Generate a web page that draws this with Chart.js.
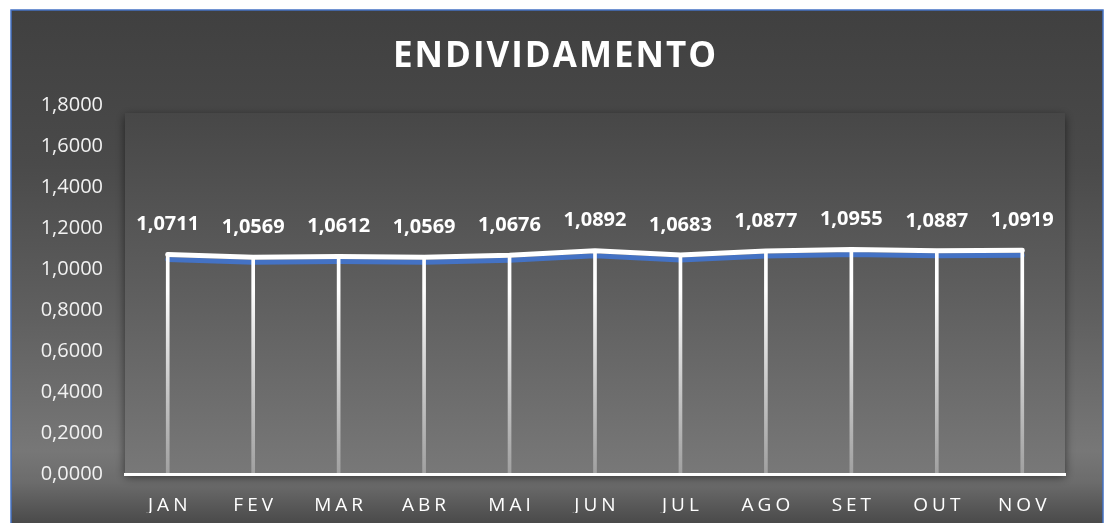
<!DOCTYPE html>
<html>
<head>
<meta charset="utf-8">
<script src="https://cdn.jsdelivr.net/npm/chart.js@4/dist/chart.umd.min.js"></script>
<style>
  html, body { margin: 0; padding: 0; background: #ffffff; overflow: hidden; }
  #wrap { position: absolute; left: 0; top: 0; width: 1106px; height: 523px; }
</style>
</head>
<body>
<div id="wrap"><canvas id="c" width="1106" height="523"></canvas></div>
<script>
const chartTitle = 'ENDIVIDAMENTO';
const months = ['JAN', 'FEV', 'MAR', 'ABR', 'MAI', 'JUN', 'JUL', 'AGO', 'SET', 'OUT', 'NOV'];
const endividamento = [1.0711, 1.0569, 1.0612, 1.0569, 1.0676, 1.0892, 1.0683, 1.0877, 1.0955, 1.0887, 1.0919];
const yMin = 0;
const yMax = 1.8;
const yStep = 0.2;

const fmt = v => Number(v).toFixed(4).replace('.', ',');

function bgGradient(ctx, top, bottom) {
  const g = ctx.createLinearGradient(0, top, 0, bottom);
  g.addColorStop(0.00, '#404040');
  g.addColorStop(0.30, '#4a4a4a');
  g.addColorStop(0.60, '#606060');
  g.addColorStop(0.86, '#777777');
  g.addColorStop(0.92, '#6c6c6c');
  g.addColorStop(1.00, '#4a4a4a');
  return g;
}

const framePlugin = {
  id: 'frame',
  beforeDraw(chart) {
    const ctx = chart.ctx;
    const W = chart.width, H = chart.height;
    ctx.save();
    ctx.fillStyle = '#ffffff';
    ctx.fillRect(0, 0, W, H);
    ctx.fillStyle = bgGradient(ctx, 10, H);
    ctx.fillRect(11, 10, 1092, H - 10);
    const a = chart.chartArea;
    ctx.save();
    ctx.shadowColor = 'rgba(0,0,0,0.55)';
    ctx.shadowBlur = 9;
    ctx.shadowOffsetX = 0;
    ctx.shadowOffsetY = 3;
    const pg = ctx.createLinearGradient(0, a.top, 0, a.bottom);
    pg.addColorStop(0, '#464646');
    pg.addColorStop(0.5, '#5e5e5e');
    pg.addColorStop(1, '#787878');
    ctx.fillStyle = pg;
    ctx.fillRect(a.left, a.top + 8, a.right - a.left, a.bottom - a.top - 8);
    ctx.restore();
    ctx.strokeStyle = '#4472C4';
    ctx.lineWidth = 1.5;
    ctx.beginPath();
    ctx.moveTo(11, H + 2);
    ctx.lineTo(11, 10);
    ctx.lineTo(1103, 10);
    ctx.lineTo(1103, H + 2);
    ctx.stroke();
    ctx.restore();
  }
};

const spacingPlugin = {
  id: 'spacing',
  afterUpdate(chart) {
    const x = chart.scales.x;
    if (x && !x._spWrapped) {
      const orig = x.drawLabels.bind(x);
      x.drawLabels = function (area) {
        const ctx = this.ctx;
        ctx.save();
        ctx.letterSpacing = '4px';
        ctx.translate(2, 0);
        orig(area);
        ctx.restore();
      };
      x._spWrapped = true;
    }
    const t = chart.titleBlock;
    if (t && !t._spWrapped) {
      const origT = t.draw.bind(t);
      t.draw = function () {
        const ctx = this.ctx;
        ctx.save();
        ctx.letterSpacing = '2px';
        ctx.translate(23, 0);
        origT();
        ctx.restore();
      };
      t._spWrapped = true;
    }
  }
};

const shadowLinePlugin = {
  id: 'shadowLine',
  beforeDatasetDraw(chart, args) {
    if (chart.data.datasets[args.index].type === 'line') {
      const ctx = chart.ctx;
      ctx.save();
      ctx.shadowColor = '#4472C4';
      ctx.shadowBlur = 0;
      ctx.shadowOffsetX = 0;
      ctx.shadowOffsetY = 5;
    }
  },
  afterDatasetDraw(chart, args) {
    if (chart.data.datasets[args.index].type === 'line') {
      chart.ctx.restore();
    }
  }
};

const labelPlugin = {
  id: 'valueLabels',
  afterDatasetsDraw(chart) {
    const ctx = chart.ctx;
    const idx = chart.data.datasets.findIndex(d => d.type === 'line');
    const meta = chart.getDatasetMeta(idx);
    ctx.save();
    ctx.font = 'bold 20px "Open Sans", sans-serif';
    ctx.fillStyle = '#ffffff';
    ctx.textAlign = 'center';
    ctx.textBaseline = 'middle';
    meta.data.forEach((pt, i) => {
      ctx.fillText(fmt(chart.data.datasets[idx].data[i]), pt.x, pt.y - 30);
    });
    ctx.restore();
  }
};

const ctx = document.getElementById('c').getContext('2d');
new Chart(ctx, {
  data: {
    labels: months,
    datasets: [
      {
        type: 'line',
        label: 'Endividamento',
        data: endividamento,
        borderColor: '#ffffff',
        borderWidth: 5,
        borderCapStyle: 'round',
        borderJoinStyle: 'round',
        pointRadius: 0,
        tension: 0,
        order: 2
      },
      {
        type: 'bar',
        label: 'drop',
        data: endividamento,
        barThickness: 3,
        backgroundColor: (c) => {
          const a = c.chart.chartArea;
          if (!a) return '#ffffff';
          const g = c.chart.ctx.createLinearGradient(0, a.top, 0, a.bottom);
          g.addColorStop(0, '#ffffff');
          g.addColorStop(0.5, '#ffffff');
          g.addColorStop(1, 'rgba(255,255,255,0.3)');
          return g;
        },
        borderWidth: 0,
        order: 1
      }
    ]
  },
  options: {
    responsive: false,
    animation: false,
    devicePixelRatio: 1,
    layout: { padding: { left: 0, right: 41, top: 0, bottom: 10 } },
    plugins: {
      legend: { display: false },
      tooltip: { enabled: false },
      title: {
        display: true,
        text: chartTitle,
        color: '#ffffff',
        font: { family: '"Open Sans", sans-serif', size: 35, weight: 'bold', lineHeight: 1.2 },
        padding: { top: 36, bottom: 27 }
      }
    },
    scales: {
      x: {
        offset: true,
        afterFit(scale) { scale.height = 39; },
        grid: { display: false, drawTicks: false },
        border: { display: true, color: '#ffffff', width: 3 },
        ticks: {
          color: '#ffffff',
          padding: 20,
          font: { family: '"Open Sans", sans-serif', size: 19 }
        }
      },
      y: {
        min: yMin,
        max: yMax,
        afterFit(scale) { scale.width = 125; },
        grid: { display: false, drawTicks: false },
        border: { display: false },
        ticks: {
          stepSize: yStep,
          color: '#f2f2f2',
          padding: 22,
          font: { family: '"Open Sans", sans-serif', size: 20 },
          callback: v => fmt(v)
        }
      }
    }
  },
  plugins: [framePlugin, spacingPlugin, shadowLinePlugin, labelPlugin]
});
</script>
</body>
</html>
